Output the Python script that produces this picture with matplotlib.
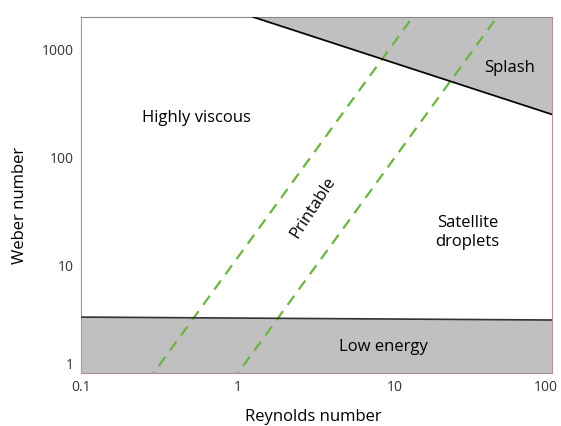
import numpy as np
import matplotlib.pyplot as plt
import matplotlib.transforms as mtransforms

plt.rcParams['font.family'] = ['Open Sans', 'DejaVu Sans']

# regime boundaries (Reynolds, Weber)
splash_re = [1.25, 100]
splash_we = [2000, 250]
low_re = [0.1, 100]
low_we = [3.3, 3.1]
# printable band: We = (Re / z)^2
z_values = [0.29, 1.0]

xticks = [0.1, 1, 10, 100]
xlabels = ["0.1", "1", "10", "100"]
yticks = [1, 10, 100, 1000]
ylabels = ["1", "10", "100", "1000"]

fig = plt.figure(figsize=(5.61, 4.26), dpi=100)
ax = fig.add_axes([81 / 561, 1 - 373 / 426, 471 / 561, 356 / 426])
ax.set_xscale("log")
ax.set_yscale("log")
ax.set_xlim(0.1, 100)
ax.set_ylim(1, 2000)

grey = "#c0c0c0"
# splash region
ax.fill_between(splash_re, splash_we, [2000, 2000], color=grey, zorder=1)
ax.plot(splash_re, splash_we, color="black", lw=1.2, zorder=3)
# low energy region
ax.fill_between(low_re, [1, 1], low_we, color=grey, zorder=1)
ax.plot(low_re, low_we, color="#333333", lw=1.2, zorder=3)

re = np.logspace(-1, 2, 200)
for z in z_values:
    ax.plot(re, (re / z) ** 2, color="#6db33f", lw=1.6, ls=(0, (5, 3.5)), zorder=2)

ax.set_xticks(xticks)
ax.set_xticklabels(xlabels)
ax.set_yticks(yticks)
ax.set_yticklabels(ylabels)
ax.minorticks_off()
ax.tick_params(length=0, labelsize=10, colors="#333333", pad=5)
ax.get_yticklabels()[0].set_va("bottom")
# keep the last x label inside the figure
last = ax.get_xticklabels()[-1]
last.set_transform(last.get_transform() +
                   mtransforms.ScaledTranslation(-6 / 100, 0, fig.dpi_scale_trans))

for side in ["left", "bottom", "right"]:
    ax.spines[side].set_color("#b48c98")
ax.spines["top"].set_color("#888888")

fig.text(313 / 561, 1 - 417 / 426, "Reynolds number", fontsize=12, ha="center", va="center")
fig.text(20 / 561, 1 - 205 / 426, "Weber number", fontsize=12, ha="center", va="center",
         rotation=90)

ax.text(0.54, 230, "Highly viscous", fontsize=12, ha="center", va="center")
ax.text(54, 680, "Splash", fontsize=12, ha="center", va="center")
ax.text(29, 20, "Satellite\ndroplets", fontsize=12, ha="center", va="center")
ax.text(8.5, 1.75, "Low energy", fontsize=12, ha="center", va="center")
ax.text(3.0, 34, "Printable", fontsize=12, ha="center", va="center", rotation=57)

plt.savefig("out.png", dpi=100)
